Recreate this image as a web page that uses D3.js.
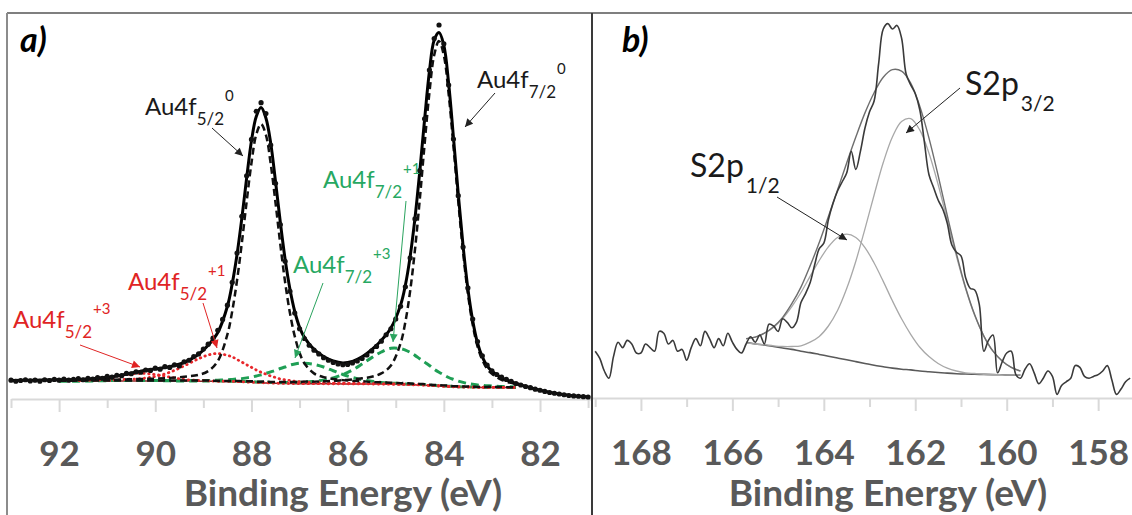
<!DOCTYPE html>
<html lang="en">
<head>
  <meta charset="UTF-8">
  <title>XPS Au4f / S2p</title>
  <style>
    body { margin: 0; background: #fff; }
    svg { display: block; font-family: Lato, "Open Sans", sans-serif; }
    .tick text { fill: #595959; font-weight: bold; font-size: 35px; font-family: Lato, "Open Sans", sans-serif; }
    .tick line, .domain { stroke: #d9d9d9; stroke-width: 2; }
    .axis-title { fill: #595959; font-weight: bold; font-size: 37px; }
    .panel-tag { font-weight: bold; font-style: italic; font-size: 34px; fill: #000; }
  </style>
</head>
<body>
<div id="chart"></div>
<script src="https://d3js.org/d3.v7.min.js"></script>
<script>
  // ---------- panel a : Au4f ----------
  const auDataE = [93.0,92.9,92.8,92.7,92.6,92.5,92.4,92.3,92.2,92.1,
    92.0,91.9,91.8,91.7,91.6,91.5,91.4,91.3,91.2,91.1,
    91.0,90.9,90.8,90.7,90.6,90.5,90.4,90.3,90.2,90.1,
    90.0,89.9,89.8,89.7,89.6,89.5,89.4,89.3,89.2,89.1,
    89.0,88.9,88.8,88.7,88.6,88.5,88.4,88.3,88.2,88.1,
    88.0,87.9,87.8,87.7,87.6,87.5,87.4,87.3,87.2,87.1,
    87.0,86.9,86.8,86.7,86.6,86.5,86.4,86.3,86.2,86.1,
    86.0,85.9,85.8,85.7,85.6,85.5,85.4,85.3,85.2,85.1,
    85.0,84.9,84.8,84.7,84.6,84.5,84.4,84.3,84.2,84.1,
    84.0,83.9,83.8,83.7,83.6,83.5,83.4,83.3,83.2,83.1,
    83.0,82.9,82.8,82.7,82.6,82.5,82.4,82.3,82.2,82.1,
    82.0,81.9,81.8,81.7,81.6,81.5,81.4,81.3,81.2,81.1,
    81.0];
  const auDataI = [5.3,5.0,5.2,5.4,5.1,5.3,5.0,5.4,5.2,5.5,
    5.3,5.6,5.3,5.5,5.7,5.4,5.8,5.6,6.0,5.8,
    6.3,6.1,6.6,6.5,7.1,7.0,7.5,7.4,8.0,7.9,
    8.5,8.2,8.9,8.7,9.4,9.1,10.2,10.6,11.6,12.3,
    13.6,14.9,16.5,18.6,21.5,25.3,31.4,39.2,49.0,59.8,
    69.5,77.0,79.3,76.4,68.0,57.8,46.8,37.0,29.0,23.2,
    19.0,16.4,14.6,13.3,12.3,11.3,10.6,10.0,9.6,9.4,
    9.5,9.9,10.4,11.1,12.0,13.1,14.3,15.7,17.4,19.0,
    21.6,25.0,30.2,37.9,48.3,61.2,75.0,88.0,96.4,100.0,
    95.0,84.0,69.6,54.5,40.8,29.9,21.6,15.6,11.8,9.3,
    7.8,6.8,6.1,5.5,5.0,4.4,4.0,3.6,3.3,2.9,
    2.6,2.3,2.0,1.8,1.6,1.4,1.2,1.1,1.0,0.9,
    0.8];

  // fitted components (drawn on the Shirley background)
  const compE = [92.0,91.6,91.2,90.9,90.6,90.3,90.0,89.7,89.4,89.1,
    88.9,88.7,88.5,88.4,88.3,88.2,88.1,88.0,87.9,87.8,87.7,87.6,87.5,87.4,87.3,87.2,87.1,87.0,
    86.9,86.7,86.5,86.3,86.1,85.9,85.7,85.5,85.3,85.1,
    84.9,84.8,84.7,84.6,84.5,84.4,84.3,84.2,84.1,84.0,
    83.9,83.8,83.7,83.6,83.5,83.4,83.3,83.2,83.1,83.0,
    82.8,82.5];
  const auBg = [5.1,5.1,5.1,5.1,5.1,5.1,5.1,5.05,5.05,5.0,
    5.0,4.95,4.9,4.9,4.85,4.8,4.75,4.7,4.65,4.6,4.55,4.5,4.45,4.42,4.4,4.38,4.36,4.35,
    4.34,4.33,4.32,4.31,4.3,4.29,4.28,4.26,4.24,4.2,
    4.15,4.12,4.08,4.04,4.0,3.95,3.88,3.8,3.72,3.65,
    3.58,3.52,3.47,3.44,3.41,3.39,3.37,3.36,3.35,3.34,
    3.32,3.3];
  const au72zero = [5.2,5.2,5.2,5.2,5.2,5.2,5.2,5.2,5.2,5.2,
    5.2,5.1,5.1,5.1,5.1,5.0,5.0,5.0,4.9,4.9,4.9,4.8,4.8,4.8,4.8,4.8,4.8,4.8,
    4.9,4.9,5.0,5.1,5.3,5.5,5.8,6.2,7.1,9.2,
    15.1,20.8,29.1,40.1,53.5,68.2,81.9,92.0,95.7,91.9,
    81.6,67.7,53.0,39.5,28.4,20.1,14.3,10.7,8.3,7.0,
    5.4,4.2];
  const au52zero = [5.3,5.3,5.4,5.4,5.5,5.6,5.7,5.9,6.2,6.7,
    7.7,10.4,17.5,23.7,31.9,41.9,52.9,63.2,70.8,73.6,70.7,63.0,52.6,41.5,31.4,23.2,17.0,12.6,
    9.8,7.1,6.1,5.6,5.3,5.1,5.0,4.8,4.7,4.6,
    4.5,4.5,4.4,4.35,4.3,4.2,4.1,4.0,3.95,3.9,
    3.8,3.7,3.65,3.6,3.6,3.55,3.5,3.5,3.5,3.5,
    3.45,3.4];
  const au72plus1 = [5.1,5.1,5.1,5.2,5.2,5.2,5.2,5.1,5.1,5.1,
    5.1,5.1,5.0,5.0,5.0,5.0,4.9,4.9,4.8,4.8,4.8,4.7,4.7,4.7,4.7,4.7,4.7,4.8,
    4.8,5.0,5.3,5.9,6.8,8.0,9.6,11.3,12.8,13.8,
    13.7,13.3,12.7,11.9,11.0,10.1,9.2,8.2,7.4,6.7,
    6.0,5.5,5.05,4.7,4.4,4.2,4.0,3.9,3.8,3.75,
    3.6,3.5];
  const au72plus3 = [5.1,5.1,5.2,5.2,5.2,5.2,5.2,5.2,5.2,5.2,
    5.2,5.3,5.4,5.5,5.6,5.7,5.9,6.1,6.4,6.7,7.1,7.5,7.9,8.4,8.8,9.3,9.6,9.8,
    9.8,9.5,8.8,7.8,6.8,6.0,5.4,5.0,4.7,4.5,
    4.4,4.3,4.3,4.2,4.15,4.1,4.0,3.9,3.8,3.75,
    3.7,3.6,3.55,3.5,3.5,3.46,3.44,3.43,3.41,3.4,
    3.37,3.35];
  const au52plus1 = [5.2,5.2,5.3,5.3,5.5,5.7,6.3,7.4,9.1,11.0,
    12.0,12.4,11.9,11.5,10.8,10.1,9.4,8.7,8.0,7.4,6.9,6.4,6.0,5.6,5.4,5.2,5.0,4.9,
    4.8,4.6,4.6,4.5,4.5,4.4,4.4,4.4,4.3,4.3,
    4.2,4.2,4.2,4.1,4.1,4.0,3.9,3.9,3.8,3.7,
    3.6,3.6,3.5,3.5,3.5,3.43,3.41,3.4,3.39,3.38,
    3.36,3.33];
  const au52plus3 = [5.2,5.3,5.6,6.1,6.8,7.1,6.8,6.1,5.5,5.2,
    5.1,5.0,5.0,4.95,4.9,4.85,4.8,4.74,4.69,4.63,4.58,4.53,4.48,4.45,4.42,4.4,4.38,4.37,
    4.36,4.35,4.34,4.33,4.31,4.3,4.29,4.27,4.25,4.21,
    4.16,4.13,4.09,4.05,4.01,3.96,3.89,3.81,3.73,3.66,
    3.59,3.53,3.48,3.45,3.42,3.4,3.38,3.37,3.36,3.35,
    3.33,3.31];

  // fit envelope
  const envE = [93.0,92.5,92.0,91.6,91.2,90.9,90.6,90.3,90.0,89.7,89.4,89.1,
    88.9,88.7,88.5,88.4,88.3,88.2,88.1,88.0,87.9,87.8,87.7,87.6,87.5,87.4,87.3,87.2,87.1,87.0,
    86.9,86.7,86.5,86.3,86.1,85.9,85.7,85.5,85.3,85.1,
    84.9,84.8,84.7,84.6,84.5,84.4,84.3,84.2,84.1,84.0,
    83.9,83.8,83.7,83.6,83.5,83.4,83.3,83.2,83.1,83.0,
    82.8,82.5,82.2,82.0,81.6,81.2,81.0];
  const envI = [5.2,5.3,5.4,5.5,5.8,6.2,6.9,7.7,8.3,8.9,10.0,12.2,
    14.6,18.0,25.0,31.0,38.8,48.5,59.2,69.1,75.6,78.0,75.2,68.5,58.3,47.4,37.5,29.6,23.6,19.4,
    16.7,13.5,11.6,10.4,9.9,10.3,11.5,13.4,15.9,19.2,
    25.3,30.6,38.3,48.5,61.0,74.8,87.6,96.0,98.0,94.6,
    84.4,70.0,54.9,41.1,29.7,21.2,15.2,11.5,9.1,7.7,
    5.9,4.4,3.3,2.6,1.6,1.0,0.8];

  const auMajorTicks = [92, 90, 88, 86, 84, 82];
  const auMinorTicks = [93, 91, 89, 87, 85, 83, 81];

  // ---------- panel b : S2p ----------
  const sDataE = [169.0,168.9,168.8,168.7,168.6,168.5,168.4,168.3,168.2,168.1,
    168.0,167.9,167.8,167.7,167.6,167.5,167.4,167.3,167.2,167.1,
    167.0,166.9,166.8,166.7,166.6,166.5,166.4,166.3,166.2,166.1,
    166.0,165.9,165.8,165.7,165.6,165.5,165.4,165.3,165.2,165.1,
    165.0,164.9,164.8,164.7,164.6,164.5,164.4,164.3,164.2,164.1,
    164.0,163.9,163.8,163.7,163.6,163.5,163.4,163.3,163.2,163.1,
    163.0,162.9,162.8,162.7,162.6,162.5,162.4,162.3,162.2,162.1,
    162.0,161.9,161.8,161.7,161.6,161.5,161.4,161.3,161.2,161.1,
    161.0,160.9,160.8,160.7,160.6,160.5,160.4,160.3,160.2,160.1,
    160.0,159.9,159.8,159.7,159.6,159.5,159.4,159.3,159.2,159.1,
    159.0,158.9,158.8,158.7,158.6,158.5,158.4,158.3,158.2,158.1,
    158.0,157.9,157.8,157.7,157.6,157.5,157.4,157.3];
  const sDataI = [14.0,12.0,8.5,6.5,12.5,16.5,15.0,17.0,16.0,13.5,
    13.5,16.0,15.0,14.0,19.5,19.0,16.0,17.0,14.0,14.5,
    11.5,15.0,17.5,15.5,19.5,17.5,15.0,17.5,15.5,19.0,
    16.5,14.5,13.5,16.0,18.0,16.5,18.5,16.0,21.5,21.0,
    19.5,23.0,22.0,20.5,22.0,27.5,30.0,33.0,38.0,42.5,
    44.0,50.5,55.0,58.5,61.0,63.5,69.5,64.5,69.5,76.0,
    80.5,83.5,94.0,103.5,105.0,103.5,104.5,101.0,91.0,88.0,
    85.5,81.0,72.0,63.0,59.5,56.0,53.5,49.5,43.5,41.5,
    40.5,34.5,31.5,31.0,27.0,14.0,17.0,18.5,8.0,11.0,
    13.5,14.0,7.5,6.5,9.0,10.5,8.0,5.0,6.5,8.5,
    7.0,2.0,4.5,5.5,6.5,10.0,9.5,7.0,6.5,7.0,
    7.5,8.5,10.0,6.0,2.0,3.5,5.5,6.5];

  const sFitE = [165.7,165.5,165.3,165.1,164.9,164.7,164.5,164.3,164.1,163.9,
    163.7,163.5,163.3,163.1,162.9,162.7,162.5,162.3,162.1,161.9,
    161.7,161.5,161.3,161.1,160.9,160.7,160.5,160.3,160.1,159.9,159.7];
  const sBg = [16.4,16.0,15.7,15.3,14.9,14.5,14.0,13.6,13.1,12.6,
    12.1,11.6,11.1,10.6,10.1,9.7,9.3,9.0,8.8,8.5,
    8.3,8.1,7.9,7.75,7.65,7.6,7.55,7.5,7.45,7.4,7.4];
  const s2p32 = [16.4,16.0,15.8,15.5,15.3,15.3,15.5,16.5,18.1,21.0,
    25.3,31.4,39.0,48.0,57.4,66.4,73.5,77.8,78.6,75.4,
    69.0,60.3,50.3,40.4,31.4,23.9,18.2,14.0,11.3,9.5,8.5];
  const s2p12 = [17.45,17.9,19.0,20.6,23.1,26.4,30.3,34.8,39.2,43.0,
    45.6,46.5,45.6,42.8,38.5,33.4,28.0,23.0,18.7,15.1,
    12.5,10.6,9.3,8.5,8.0,7.8,7.6,7.5,7.45,7.4,7.4];
  const sEnv = [17.5,17.9,19.0,20.8,23.4,27.2,31.8,37.7,44.2,51.4,
    58.8,66.3,73.5,80.2,85.8,90.1,92.2,91.8,88.5,82.0,
    73.2,62.8,51.7,41.1,31.7,24.1,18.2,14.0,11.3,9.5,8.5];

  const sMajorTicks = [168, 166, 164, 162, 160, 158];
  const sMinorTicks = [169, 167, 165, 163, 161, 159];

  const axisTitle = 'Binding Energy (eV)';

  // ---------- drawing ----------
  const W = 1132, H = 515;
  const svg = d3.select('#chart').append('svg')
    .attr('width', W).attr('height', H);
  svg.append('rect').attr('width', W).attr('height', H).attr('fill', '#fff');

  const xA = d3.scaleLinear().domain([93, 80.94]).range([11, 591]);
  const yA = d3.scaleLinear().domain([0, 100]).range([400, 25]);
  const xB = d3.scaleLinear().domain([169.07, 157.26]).range([592, 1132]);
  const yB = d3.scaleLinear().domain([0, 100]).range([401.6, 41.6]);

  const smooth = d3.curveCatmullRom.alpha(0.5);
  function lineFor(x, y) {
    return d3.line().x(d => x(d[0])).y(d => y(d[1])).curve(smooth);
  }
  const zip = (a, b) => a.map((v, i) => [v, b[i]]);

  // axes
  function drawAxis(x, yPos, major, minor) {
    const gMin = svg.append('g').attr('transform', `translate(0,${yPos})`)
      .call(d3.axisBottom(x).tickValues(minor).tickSize(9).tickSizeOuter(0).tickFormat(''));
    gMin.selectAll('text').remove();
    const gMaj = svg.append('g').attr('transform', `translate(0,${yPos})`)
      .call(d3.axisBottom(x).tickValues(major).tickSize(13).tickSizeOuter(0).tickPadding(29));
    gMaj.select('.domain').remove();
  }
  drawAxis(xA, 399, auMajorTicks, auMinorTicks);
  drawAxis(xB, 398, sMajorTicks, sMinorTicks);

  svg.append('text').attr('class', 'axis-title').attr('x', 343).attr('y', 506)
    .attr('text-anchor', 'middle').text(axisTitle);
  svg.append('text').attr('class', 'axis-title').attr('x', 888).attr('y', 506)
    .attr('text-anchor', 'middle').text(axisTitle);

  // frame
  svg.append('line').attr('x1', 7).attr('x2', W).attr('y1', 13).attr('y2', 13)
    .attr('stroke', '#7f7f7f').attr('stroke-width', 2);
  svg.append('line').attr('x1', 7).attr('x2', 7).attr('y1', 13).attr('y2', H)
    .attr('stroke', '#8c8c8c').attr('stroke-width', 2);
  svg.append('line').attr('x1', 592).attr('x2', 592).attr('y1', 13).attr('y2', H)
    .attr('stroke', '#3a3a3a').attr('stroke-width', 2);

  // panel a curves
  const lA = lineFor(xA, yA);
  const green = '#1f9f55', red = '#e8282c';
  const gA = svg.append('g');
  gA.append('path').attr('d', lA(zip(compE, auBg)))
    .attr('fill', 'none').attr('stroke', '#8a2525').attr('stroke-width', 1.5);
  [au72plus1, au72plus3].forEach(s => {
    gA.append('path').attr('d', lA(zip(compE, s)))
      .attr('fill', 'none').attr('stroke', green).attr('stroke-width', 3)
      .attr('stroke-dasharray', '8,5');
  });
  [au52plus1, au52plus3].forEach(s => {
    gA.append('path').attr('d', lA(zip(compE, s)))
      .attr('fill', 'none').attr('stroke', red).attr('stroke-width', 2.8)
      .attr('stroke-linecap', 'round').attr('stroke-dasharray', '0.5,4.5');
  });
  [au72zero, au52zero].forEach(s => {
    gA.append('path').attr('d', lA(zip(compE, s)))
      .attr('fill', 'none').attr('stroke', '#111').attr('stroke-width', 2.5)
      .attr('stroke-dasharray', '7,4');
  });
  gA.append('path').attr('d', lA(zip(envE, envI)))
    .attr('fill', 'none').attr('stroke', '#000').attr('stroke-width', 3);
  gA.selectAll('circle').data(zip(auDataE, auDataI)).enter().append('circle')
    .attr('cx', d => xA(d[0])).attr('cy', d => yA(d[1])).attr('r', 2.6)
    .attr('fill', '#111');

  // panel b curves
  const lB = lineFor(xB, yB);
  const gB = svg.append('g');
  gB.append('path').attr('d', lB(zip(sFitE, sBg)))
    .attr('fill', 'none').attr('stroke', '#5a5a5a').attr('stroke-width', 1.6);
  [s2p32, s2p12].forEach(s => {
    gB.append('path').attr('d', lB(zip(sFitE, s)))
      .attr('fill', 'none').attr('stroke', '#a8a8a8').attr('stroke-width', 1.3);
  });
  gB.append('path').attr('d', lB(zip(sFitE, sEnv)))
    .attr('fill', 'none').attr('stroke', '#6e6e6e').attr('stroke-width', 1.4);
  gB.append('path').attr('d', lB(zip(sDataE, sDataI)))
    .attr('fill', 'none').attr('stroke', '#3a3a3a').attr('stroke-width', 1.6);

  // arrow markers
  const defs = svg.append('defs');
  const arrowColors = { black: '#222', green: '#2aa35e', red: '#e02424' };
  Object.entries(arrowColors).forEach(([k, c]) => {
    defs.append('marker').attr('id', 'arr-' + k)
      .attr('viewBox', '0 0 10 10').attr('refX', 10).attr('refY', 5)
      .attr('markerWidth', 9).attr('markerHeight', 8)
      .attr('markerUnits', 'userSpaceOnUse').attr('orient', 'auto')
      .append('path').attr('d', 'M0,0L10,5L0,10z').attr('fill', c);
  });

  // annotations
  const labels = [
    { main: 'Au4f', sub: '5/2', sup: '0', x: 145, y: 115, c: 'black', ax: [212, 128, 243, 156] },
    { main: 'Au4f', sub: '7/2', sup: '0', x: 477, y: 88, c: 'black', ax: [495, 93, 465, 127] },
    { main: 'Au4f', sub: '7/2', sup: '+1', x: 323, y: 188, c: 'green', ax: [406, 201, 393, 342] },
    { main: 'Au4f', sub: '7/2', sup: '+3', x: 293, y: 273, c: 'green', ax: [323, 283, 295, 358] },
    { main: 'Au4f', sub: '5/2', sup: '+1', x: 128, y: 290, c: 'red', ax: [203, 303, 217, 348] },
    { main: 'Au4f', sub: '5/2', sup: '+3', x: 13, y: 328, c: 'red', ax: [80, 345, 140, 367] }
  ];
  const textColors = { black: '#1a1a1a', green: '#27a862', red: '#e02424' };
  labels.forEach(l => {
    const t = svg.append('text').attr('x', l.x).attr('y', l.y)
      .attr('fill', textColors[l.c]).style('font-size', '24px');
    t.append('tspan').text(l.main);
    t.append('tspan').attr('dy', 10).style('font-size', '17px').text(l.sub);
    t.append('tspan').attr('dy', -24).attr('dx', 1).style('font-size', '15px').text(l.sup);
    svg.append('line').attr('x1', l.ax[0]).attr('y1', l.ax[1]).attr('x2', l.ax[2]).attr('y2', l.ax[3])
      .attr('stroke', arrowColors[l.c]).attr('stroke-width', 1)
      .attr('marker-end', `url(#arr-${l.c})`);
  });

  const sLabels = [
    { main: 'S2p', sub: '1/2', x: 690, y: 177, ax: [777, 197, 847, 240] },
    { main: 'S2p', sub: '3/2', x: 965, y: 95, ax: [960, 88, 906, 133] }
  ];
  sLabels.forEach(l => {
    const t = svg.append('text').attr('x', l.x).attr('y', l.y)
      .attr('fill', '#1a1a1a').style('font-size', '32px');
    t.append('tspan').text(l.main);
    t.append('tspan').attr('dy', 16).attr('dx', 2).style('font-size', '21px').text(l.sub);
    svg.append('line').attr('x1', l.ax[0]).attr('y1', l.ax[1]).attr('x2', l.ax[2]).attr('y2', l.ax[3])
      .attr('stroke', '#222').attr('stroke-width', 1)
      .attr('marker-end', 'url(#arr-black)');
  });

  svg.append('text').attr('class', 'panel-tag').attr('x', 20).attr('y', 52).text('a)');
  svg.append('text').attr('class', 'panel-tag').attr('x', 622).attr('y', 52).text('b)');
</script>
</body>
</html>
